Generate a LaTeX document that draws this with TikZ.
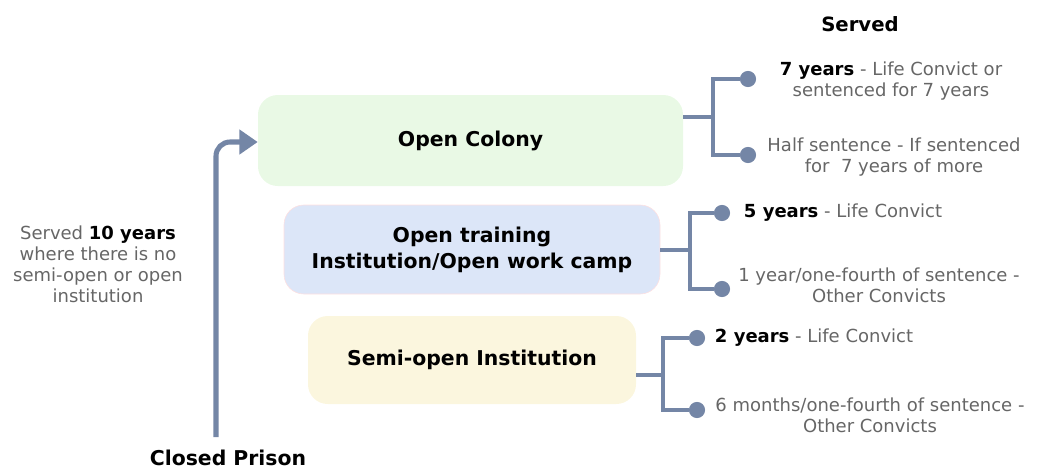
\documentclass[tikz,border=0pt]{standalone}
\usepackage{fontspec}
\setmainfont{DejaVu Sans}
\usetikzlibrary{arrows.meta}

\definecolor{linkblue}{HTML}{7486A6}
\definecolor{txtgrey}{HTML}{666666}
\definecolor{greenbox}{HTML}{E9F9E5}
\definecolor{bluebox}{HTML}{DCE6F8}
\definecolor{yellowbox}{HTML}{FBF6DE}

\begin{document}
\begin{tikzpicture}[x=0.025cm, y=-0.025cm,
  stage/.style={rounded corners=14pt, inner sep=0pt, align=center,
    font=\fontsize{14.5}{18.5}\selectfont\bfseries},
  link/.style={draw=linkblue, line width=2.6pt},
  dot/.style={circle, fill=linkblue, inner sep=0pt, minimum size=11.5pt},
  note/.style={align=center, text=txtgrey, font=\fontsize{12.8}{15}\selectfont}]
\useasboundingbox (0,0) rectangle (1040,469);

% stages
\node[stage, fill=greenbox, minimum width=425*0.025cm, minimum height=91*0.025cm] (oc) at (470.5,140.5) {Open Colony};
\node[stage, fill=bluebox, draw=red!12, minimum width=376*0.025cm, minimum height=89*0.025cm] (ot) at (472,249.5) {Open training\\Institution/Open work camp};
\node[stage, fill=yellowbox, minimum width=328*0.025cm, minimum height=88*0.025cm] (so) at (472,360) {Semi-open Institution};

% closed prison and its arrow
\node[font=\fontsize{14.5}{18}\selectfont\bfseries] (cp) at (228,458) {Closed Prison};
\coordinate (cp-top) at (216,437);
\draw[link, line width=3.6pt, rounded corners=10pt, -{Triangle[length=13pt, width=17pt]}]
  (cp-top) |- (oc.west |- 0,142);
\node[note] (ten) at (98,264) {Served \textcolor{black}{\bfseries 10 years}\\where there is no\\semi-open or open\\institution};

\node[font=\fontsize{14}{18}\selectfont\bfseries] (served) at (860,24) {Served};

% open colony branches
\coordinate (oc-j) at (713,117);
\node[dot] (oc-d1) at (748,79) {};
\node[dot] (oc-d2) at (748,155) {};
\draw[link] (oc.east |- oc-j) -- (oc-j);
\draw[link] (oc-d1) -| (oc-j) |- (oc-d2);
\node[note] (oc-t1) at (891,81) {\textcolor{black}{\bfseries 7 years} - Life Convict or\\sentenced for 7 years};
\node[note] (oc-t2) at (894,157) {Half sentence - If sentenced\\for\ \ 7 years of more};

% open training branches
\coordinate (ot-j) at (690,250);
\node[dot] (ot-d1) at (722,213) {};
\node[dot] (ot-d2) at (722,289) {};
\draw[link] (ot.east |- ot-j) -- (ot-j);
\draw[link] (ot-d1) -| (ot-j) |- (ot-d2);
\node[note, anchor=west] (ot-t1) at (739,213) {\textcolor{black}{\bfseries 5 years} - Life Convict};
\node[note] (ot-t2) at (879,285) {1 year/one-fourth of sentence -\\Other Convicts};

% semi-open branches
\coordinate (so-j) at (663,375);
\node[dot] (so-d1) at (697,338) {};
\node[dot] (so-d2) at (697,410) {};
\draw[link] (so.east |- so-j) -- (so-j);
\draw[link] (so-d1) -| (so-j) |- (so-d2);
\node[note, anchor=west] (so-t1) at (710,338) {\textcolor{black}{\bfseries 2 years} - Life Convict};
\node[note] (so-t2) at (870,415) {6 months/one-fourth of sentence -\\Other Convicts};
\end{tikzpicture}
\end{document}
